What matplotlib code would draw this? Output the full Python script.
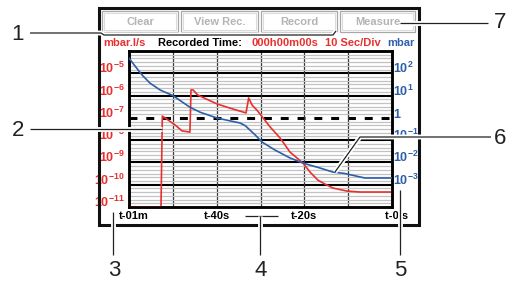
import numpy as np
import matplotlib.pyplot as plt
import matplotlib.patheffects as pe
from matplotlib.patches import Rectangle
from matplotlib.ticker import FixedLocator, NullFormatter
from matplotlib.transforms import ScaledTranslation

plt.rcParams['font.family'] = ['Liberation Sans', 'DejaVu Sans']
plt.rcParams['mathtext.fontset'] = 'custom'
plt.rcParams['mathtext.rm'] = 'Liberation Sans:bold'
plt.rcParams['mathtext.bf'] = 'Liberation Sans:bold'
plt.rcParams['mathtext.it'] = 'Liberation Sans:bold'
plt.rcParams['mathtext.default'] = 'bf'

RED = '#e8302f'
BLUE = '#2c5fa9'
INK = '#222222'

# --- data ---------------------------------------------------------------
# time axis (seconds before now), 10 s per division
time_ticks = [-60, -50, -40, -30, -20, -10, 0]
time_labels = ['t-01m', '', 't-40s', '', 't-20s', '', 't-0 s']

# left axis: leak rate (mbar.l/s)
leak_ticks = [1e-11, 1e-10, 1e-9, 1e-8, 1e-7, 1e-6, 1e-5]
leak_labels = [r'$10^{-11}$', r'$10^{-10}$', r'$10^{-9}$', r'$10^{-8}$',
               r'$10^{-7}$', r'$10^{-6}$', r'$10^{-5}$']
leak_ref = 1e-7  # dashed reference line

# right axis: pressure (mbar)
press_ticks = [1e-3, 1e-2, 1e-1, 1, 1e1, 1e2]
press_labels = [r'$10^{-3}$', r'$10^{-2}$', r'$10^{-1}$', r'$1$',
                r'$10^{1}$', r'$10^{2}$']

leak_t = [-60, -52.7, -52.4, -51.6, -49.5, -47.9, -46.1, -45.85, -45.4,
          -44.3, -39.9, -37.0, -33.3, -32.7, -31.9, -30.8, -27.8, -25.5,
          -23.3, -20.3, -18.7, -16.9, -15.3, -13.5, -10.3, -7.3, 0]
leak_val = [1e-11, 1e-11, 1.2e-7, 9.5e-8, 4.8e-8, 2.6e-8, 2.3e-8, 1.8e-6,
            1.8e-6, 1.05e-6, 4.2e-7, 2.75e-7, 1.66e-7, 7.8e-7, 3.7e-7,
            2.2e-7, 3.9e-8, 1.23e-8, 2.95e-9, 9.3e-10, 3.7e-10, 1.6e-10,
            1.07e-10, 7.1e-11, 5.2e-11, 4.7e-11, 4.7e-11]

press_t = [-60, -58.6, -57.0, -55.2, -52.9, -50.0, -46.1, -43.8, -39.9,
           -34.7, -33.5, -31.2, -29.6, -26.7, -23.3, -20.3, -16.4, -13.5,
           -10.8, -8.4, -6.2, 0]
press_val = [479, 209, 83, 36, 17.8, 10, 3.0, 1.8, 0.98, 0.59, 0.45, 0.17,
             0.081, 0.036, 0.016, 0.0093, 0.0056, 0.0037, 0.0032, 0.0025,
             0.0020, 0.0020]

button_labels = ['Clear', 'View Rec.', 'Record', 'Measure']

# --- figure -------------------------------------------------------------
W, H = 509, 286
fig = plt.figure(figsize=(W / 100, H / 100), dpi=100)

ax = fig.add_axes([129 / W, 1 - 207 / H, 263 / W, 156 / H])
ax.set_xlim(-60, 0)
ax.set_yscale('log')
ax.set_ylim(1e-11, 1e-4)

# light minor lines, 5 per decade
minor = [10.0 ** (k + i / 6) for k in range(-11, -4) for i in range(1, 6)]
ax.yaxis.set_minor_locator(FixedLocator(minor))
ax.yaxis.set_minor_formatter(NullFormatter())
ax.grid(which='minor', axis='y', color='#c2c2c2', lw=0.9)
ax.set_xticks(time_ticks, time_labels)
ax.grid(which='major', axis='x', color='#333333', lw=0.9)
for v in leak_ticks[1:] + [1e-4]:
    if v != leak_ref:
        ax.axhline(v, color='black', lw=1.5, zorder=1)
ax.axhline(leak_ref, color='black', lw=2.2, ls=(0, (2.6, 2.9)), zorder=1)

ax.plot(leak_t, leak_val, color=RED, lw=1.2, zorder=3)
ax.set_yticks(leak_ticks, leak_labels)
ax.tick_params(axis='y', which='both', length=0, pad=3, colors=RED,
               labelsize=9)
ax.tick_params(axis='x', length=0, pad=3, labelsize=8)
for lab in ax.get_xticklabels():
    lab.set_fontweight('bold')
for lab in ax.get_yticklabels():
    lab.set_va('baseline')
# first and last time labels sit slightly right of their grid lines
xl = ax.get_xticklabels()
for lab, dx in ((xl[0], 5), (xl[-1], 5)):
    lab.set_transform(lab.get_transform()
                      + ScaledTranslation(dx / 100, 0, fig.dpi_scale_trans))

tw = ax.twinx()
tw.set_yscale('log')
tw.set_ylim(1e-4, 1e3)
tw.plot(press_t, press_val, color=BLUE, lw=1.2, zorder=3)
tw.set_yticks(press_ticks, press_labels)
tw.yaxis.set_minor_locator(FixedLocator([]))
tw.yaxis.set_minor_formatter(NullFormatter())
tw.tick_params(axis='y', which='both', length=0, pad=1, colors=BLUE,
               labelsize=9)
for lab in tw.get_yticklabels():
    lab.set_va('baseline')

for a in (ax, tw):
    for s in a.spines.values():
        s.set_linewidth(1.8)
        s.set_color('black')

# --- instrument frame, buttons and callouts (pixel overlay) ---------------
ov = fig.add_axes([0, 0, 1, 1], zorder=10)
ov.set_xlim(0, W)
ov.set_ylim(H, 0)
ov.axis('off')
ov.patch.set_visible(False)

ov.add_patch(Rectangle((99.5, 7.5), 319.5, 217.5, fill=False,
                       ec='#111111', lw=2.2))

bx = [(102, 178), (181, 258), (261, 337), (340, 415)]
for (x0, x1), name in zip(bx, button_labels):
    ov.add_patch(Rectangle((x0, 11), x1 - x0, 21, fill=False,
                           ec='#a8a8a8', lw=0.9))
    ov.add_patch(Rectangle((x0 + 2, 13), x1 - x0 - 4, 17, fill=False,
                           ec='#dcdcdc', lw=0.8))
    ov.text((x0 + x1) / 2, 22, name, ha='center', va='center',
            color='#b4b4b4', fontsize=8, fontweight='bold')

hdr = dict(va='center', fontsize=8, fontweight='bold')
ov.text(103, 43, 'mbar.l/s', color=RED, **hdr)
ov.text(158, 43, 'Recorded Time:', color='black', **hdr)
ov.text(252, 43, '000h00m00s', color=RED, **hdr)
ov.text(325, 43, '10 Sec/Div', color=RED, **hdr)
ov.text(415, 43, 'mbar', color=BLUE, ha='right', va='center',
        fontsize=8, fontweight='bold')

halo = [pe.Stroke(linewidth=3.5, foreground='white'), pe.Normal()]


def callout(xs, ys):
    ov.plot(xs, ys, color=INK, lw=0.9, path_effects=halo,
            solid_capstyle='butt')


callout([30, 101, 104, 333, 336], [33, 33, 35, 35, 31])
callout([30, 162], [129, 129])
callout([113, 113], [212, 255])
callout([245, 278], [216, 216])
callout([260.5, 260.5], [216, 255])
callout([400, 400], [190, 255])
callout([335, 360, 491], [172, 137, 137])
callout([400, 488], [23, 23])

num = dict(ha='center', va='center', fontsize=16, color=INK)
ov.text(18, 34, '1', **num)
ov.text(18, 130, '2', **num)
ov.text(114, 270, '3', **num)
ov.text(261, 270, '4', **num)
ov.text(400, 270, '5', **num)
ov.text(500, 138, '6', **num)
ov.text(500, 23, '7', **num)

fig.savefig('out.png', dpi=100)
